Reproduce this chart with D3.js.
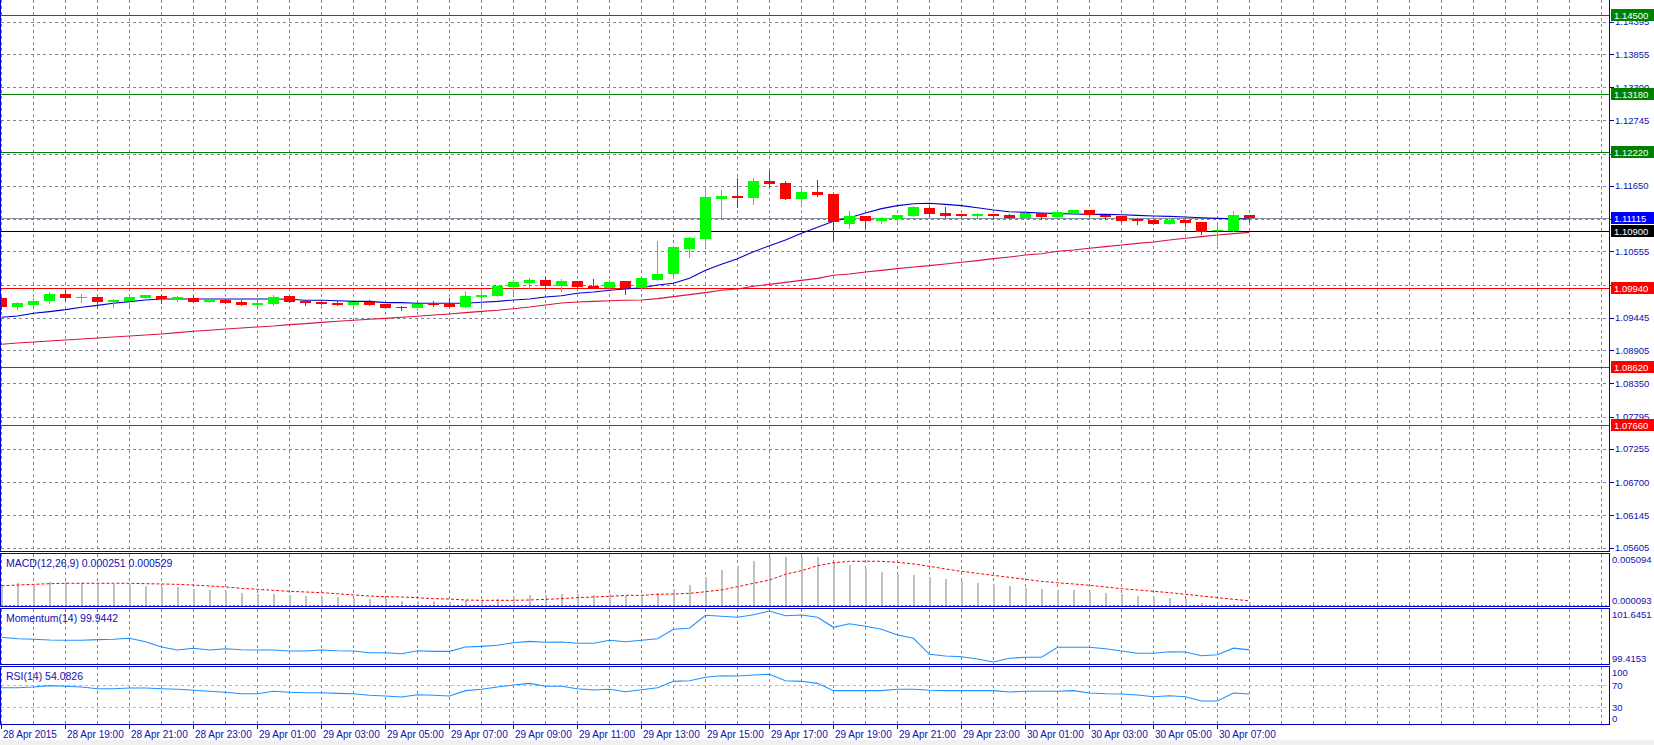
<!DOCTYPE html>
<html>
<head>
<meta charset="utf-8">
<script src="https://cdn.jsdelivr.net/npm/d3@7"></script>
<style>
body { margin:0; background:#fff; }
svg text { font-family: "Liberation Sans", Arial, sans-serif; }
</style>
</head>
<body>
<svg id="chart" width="1654" height="745"></svg>
<script>
// data (EURUSD M30, 28 Apr 17:00 -> 30 Apr 08:00)
var open  = [1.09784,1.09633,1.09667,1.09728,1.09845,1.09784,1.09795,1.09717,1.09728,1.09784,
             1.09811,1.09761,1.09778,1.09717,1.09750,1.09711,1.09667,1.09683,1.09811,1.09733,
             1.09711,1.09694,1.09667,1.09717,1.09678,1.09625,1.09616,1.09683,1.09694,1.09633,
             1.09800,1.09817,1.09967,1.10034,1.10079,1.09984,1.10062,1.09978,1.09950,1.10062,
             1.09950,1.10079,1.10185,1.10596,1.10764,1.11432,1.11482,1.11454,1.11733,1.11699,
             1.11432,1.11549,1.11510,1.11020,1.11148,1.11070,1.11103,1.11153,1.11282,1.11198,
             1.11181,1.11153,1.11181,1.11165,1.11120,1.11198,1.11137,1.11198,1.11248,1.11165,
             1.11148,1.11103,1.11087,1.11020,1.11087,1.11053,1.10892,1.10892,1.11165];
var high  = [1.09800,1.09711,1.09784,1.09878,1.09912,1.09845,1.09795,1.09761,1.09828,1.09828,
             1.09828,1.09811,1.09811,1.09778,1.09767,1.09745,1.09694,1.09828,1.09811,1.09750,
             1.09733,1.09728,1.09717,1.09745,1.09678,1.09650,1.09683,1.09722,1.09784,1.09895,
             1.09912,1.09995,1.10079,1.10118,1.10129,1.10095,1.10062,1.10095,1.10079,1.10062,
             1.10112,1.10730,1.10630,1.10797,1.11633,1.11577,1.11788,1.11783,1.11900,1.11727,
             1.11616,1.11749,1.11510,1.11231,1.11148,1.11137,1.11165,1.11310,1.11298,1.11298,
             1.11181,1.11198,1.11181,1.11181,1.11248,1.11198,1.11215,1.11248,1.11248,1.11165,
             1.11148,1.11120,1.11087,1.11120,1.11087,1.11053,1.10992,1.11231,1.11165];
var low   = [1.09600,1.09600,1.09667,1.09700,1.09750,1.09717,1.09633,1.09633,1.09667,1.09745,
             1.09700,1.09733,1.09717,1.09717,1.09700,1.09667,1.09650,1.09667,1.09717,1.09667,
             1.09683,1.09667,1.09667,1.09667,1.09616,1.09583,1.09583,1.09650,1.09633,1.09633,
             1.09655,1.09817,1.09828,1.09950,1.09950,1.09900,1.09950,1.09939,1.09950,1.09844,
             1.09950,1.10079,1.10129,1.10468,1.10652,1.11131,1.11298,1.11354,1.11638,1.11438,
             1.11337,1.11488,1.10753,1.10953,1.10953,1.11036,1.11053,1.11153,1.11153,1.11137,
             1.11137,1.11126,1.11120,1.11120,1.11120,1.11103,1.11120,1.11198,1.11148,1.11103,
             1.11053,1.11020,1.11020,1.11020,1.10986,1.10841,1.10680,1.10892,1.11053];
var close = [1.09628,1.09694,1.09728,1.09845,1.09784,1.09789,1.09717,1.09745,1.09795,1.09828,
             1.09761,1.09795,1.09717,1.09750,1.09700,1.09667,1.09694,1.09795,1.09717,1.09700,
             1.09683,1.09667,1.09717,1.09667,1.09616,1.09620,1.09683,1.09667,1.09633,1.09811,
             1.09828,1.09979,1.10045,1.10079,1.09984,1.10062,1.09967,1.09939,1.10045,1.09950,
             1.10112,1.10179,1.10630,1.10781,1.11465,1.11482,1.11449,1.11733,1.11688,1.11438,
             1.11549,1.11504,1.11036,1.11148,1.11070,1.11114,1.11165,1.11298,1.11187,1.11153,
             1.11153,1.11181,1.11153,1.11120,1.11198,1.11137,1.11215,1.11248,1.11165,1.11137,
             1.11070,1.11070,1.11020,1.11087,1.11036,1.10892,1.10908,1.11165,1.11115];

var maFast = [1.09455,1.09477,1.09522,1.09550,1.09583,1.09622,1.09655,1.09689,1.09717,1.09745,
              1.09761,1.09761,1.09761,1.09761,1.09761,1.09761,1.09761,1.09761,1.09756,1.09739,
              1.09739,1.09733,1.09722,1.09722,1.09700,1.09700,1.09689,1.09689,1.09689,1.09689,
              1.09706,1.09722,1.09744,1.09761,1.09794,1.09816,1.09856,1.09878,1.09906,1.09928,
              1.09950,1.09995,1.10023,1.10106,1.10240,1.10340,1.10435,1.10552,1.10652,1.10747,
              1.10858,1.10959,1.11059,1.11120,1.11198,1.11271,1.11321,1.11354,1.11360,1.11343,
              1.11321,1.11287,1.11248,1.11220,1.11209,1.11198,1.11187,1.11181,1.11176,1.11176,
              1.11170,1.11159,1.11148,1.11142,1.11131,1.11120,1.11109,1.11103,1.11098];
var maSlow = [1.09004,1.09026,1.09043,1.09060,1.09077,1.09093,1.09110,1.09127,1.09143,1.09160,
              1.09177,1.09199,1.09221,1.09238,1.09260,1.09277,1.09294,1.09310,1.09333,1.09349,
              1.09371,1.09388,1.09405,1.09422,1.09438,1.09455,1.09472,1.09494,1.09511,1.09533,
              1.09555,1.09572,1.09599,1.09627,1.09661,1.09694,1.09711,1.09722,1.09733,1.09739,
              1.09744,1.09767,1.09800,1.09834,1.09867,1.09906,1.09928,1.09973,1.10006,1.10039,
              1.10073,1.10106,1.10157,1.10179,1.10212,1.10240,1.10268,1.10296,1.10318,1.10346,
              1.10374,1.10402,1.10435,1.10463,1.10496,1.10518,1.10558,1.10580,1.10608,1.10636,
              1.10663,1.10691,1.10713,1.10747,1.10775,1.10803,1.10831,1.10853,1.10875];

var macdHist = [0.00209,0.00240,0.00223,0.00251,0.00244,0.00234,0.00234,0.00223,0.00220,0.00206,
                0.00199,0.00196,0.00175,0.00165,0.00157,0.00137,0.00126,0.00120,0.00113,0.00106,
                0.00092,0.00095,0.00085,0.00071,0.00071,0.00054,0.00054,0.00054,0.00040,0.00058,
                0.00061,0.00071,0.00092,0.00113,0.00113,0.00126,0.00126,0.00113,0.00120,0.00106,
                0.00113,0.00130,0.00175,0.00216,0.00299,0.00372,0.00413,0.00465,0.00509,0.00506,
                0.005094,0.00503,0.00454,0.00423,0.00382,0.00351,0.00333,0.00320,0.00299,0.00278,
                0.00258,0.00237,0.00216,0.00206,0.00189,0.00175,0.00165,0.00165,0.00147,0.00134,
                0.00123,0.00102,0.00092,0.00082,0.00071,0.00035,0.000093,0.00022,0.000251];
var macdSignal = [0.00209,0.00216,0.00223,0.00230,0.00234,0.00234,0.00234,0.00234,0.00234,0.00230,
                  0.00227,0.00223,0.00216,0.00206,0.00196,0.00182,0.00172,0.00161,0.00151,0.00144,
                  0.00137,0.00126,0.00113,0.00102,0.00095,0.00092,0.00085,0.00075,0.00071,0.00061,
                  0.00058,0.00058,0.00058,0.00061,0.00068,0.00075,0.00085,0.00092,0.00099,0.00109,
                  0.00109,0.00120,0.00123,0.00130,0.00147,0.00165,0.00199,0.00234,0.00268,0.00327,
                  0.00365,0.00416,0.00447,0.00462,0.00462,0.00462,0.00451,0.00434,0.00410,0.00382,
                  0.00358,0.00337,0.00316,0.00296,0.00275,0.00254,0.00240,0.00227,0.00213,0.00196,
                  0.00178,0.00165,0.00151,0.00137,0.00120,0.00102,0.00085,0.00068,0.000529];

var momentum = [100.495,100.434,100.408,100.377,100.364,100.364,100.393,100.408,100.452,100.303,
                100.071,99.940,100.014,99.940,99.997,99.953,99.940,99.940,99.896,99.896,
                99.940,99.910,99.896,99.822,99.822,99.778,99.910,99.881,99.881,100.071,
                100.100,100.145,100.259,100.319,100.277,100.290,100.233,100.233,100.364,100.303,
                100.364,100.434,100.845,100.889,101.457,101.413,101.370,101.483,101.6451,101.440,
                101.470,101.370,100.932,101.090,100.976,100.845,100.596,100.452,99.752,99.678,
                99.647,99.546,99.4153,99.577,99.621,99.621,100.058,100.058,100.058,99.997,
                99.896,99.796,99.796,99.866,99.853,99.691,99.735,100.020,99.9442];

var rsi = [65.6,65.6,66.9,69.3,68.1,66.9,63.7,63.7,65.0,65.0,
           63.7,62.6,60.8,58.9,57.1,54.5,54.5,58.9,57.1,56.4,
           56.4,55.2,54.5,51.6,50.3,48.4,52.7,51.6,50.3,60.1,
           62.6,66.9,70.5,73.6,68.1,68.1,63.7,61.3,62.6,58.2,
           61.9,65.6,77.3,78.5,84.7,87.7,87.1,89.0,90.2,78.5,
           77.3,73.6,60.1,60.1,60.1,60.1,62.6,62.6,60.8,60.1,
           60.1,60.1,60.1,57.6,58.9,58.9,58.9,60.1,55.8,54.5,
           54.0,52.1,49.0,50.8,49.0,41.1,41.1,55.8,54.0826];

var priceTicks = [1.14395,1.13855,1.13300,1.12745,1.12190,1.11650,1.11100,1.10555,1.10000,
                  1.09445,1.08905,1.08350,1.07795,1.07255,1.06700,1.06145,1.05605];
var levelsGreen = [1.14500, 1.13180, 1.12220];
var levelsBlack = [1.10900];
var levelsRed = [1.09940, 1.08620, 1.07660];
var bidPrice = 1.11115;

var timeLabels = ['28 Apr 2015','28 Apr 19:00','28 Apr 21:00','28 Apr 23:00','29 Apr 01:00',
                  '29 Apr 03:00','29 Apr 05:00','29 Apr 07:00','29 Apr 09:00','29 Apr 11:00',
                  '29 Apr 13:00','29 Apr 15:00','29 Apr 17:00','29 Apr 19:00','29 Apr 21:00',
                  '29 Apr 23:00','30 Apr 01:00','30 Apr 03:00','30 Apr 05:00','30 Apr 07:00'];
var macdScale = [0.000093, 0.005094];
var momScale = [99.4153, 101.6451];
var rsiLevels = [100, 70, 30, 0];
// END data

var svg = d3.select('#chart');
var W = 1654, H = 745;
var right = 1609.5;
var axisBlue = '#0000c8';
var textBlue = '#1010b0';
var gridCol = '#7b8799';

var panels = {
    main: {top: -2, bottom: 551.5},
    macd: {top: 553.5, bottom: 606.5},
    mom:  {top: 608.5, bottom: 664.5},
    rsi:  {top: 666.5, bottom: 724.5}
};

// one candle every 16px, grid every 2 candles
var x = d3.scaleLinear().domain([0, 100]).range([1.5, 1601.5]);

var y = d3.scaleLinear().domain([1.05605, 1.14395]).range([547.7, 21.7]);
var yMacd = d3.scaleLinear().domain(macdScale).range([605, 556.7]);
var yMom = d3.scaleLinear().domain(momScale).range([662, 611]);
var yRsi = d3.scaleLinear().domain([0, 100]).range([723.3, 669]);

function px(v){ return Math.round(v) + 0.5; }

svg.append('rect').attr('width', W).attr('height', H).attr('fill', '#fff');
svg.append('rect').attr('x', 0).attr('y', 740).attr('width', W).attr('height', 5).attr('fill', '#f0f0f0');

// vertical grid through every panel
var gridK = d3.range(0, 101, 2);
Object.keys(panels).forEach(function(name){
    var p = panels[name];
    svg.append('g').selectAll('line').data(gridK).join('line')
        .attr('x1', function(k){ return x(k); }).attr('x2', function(k){ return x(k); })
        .attr('y1', Math.max(0, p.top)).attr('y2', p.bottom)
        .attr('stroke', gridCol).attr('stroke-dasharray', '3,3')
        .attr('shape-rendering', 'crispEdges');
});

// horizontal grid main
svg.append('g').selectAll('line').data(priceTicks).join('line')
    .attr('x1', 1).attr('x2', right)
    .attr('y1', function(d){ return px(y(d)); }).attr('y2', function(d){ return px(y(d)); })
    .attr('stroke', gridCol).attr('stroke-dasharray', '3,3')
    .attr('shape-rendering', 'crispEdges');

// bid line
svg.append('line').attr('x1', 1).attr('x2', right)
    .attr('y1', px(y(bidPrice))).attr('y2', px(y(bidPrice)))
    .attr('stroke', '#8090a0').attr('shape-rendering', 'crispEdges');

// level lines
function drawLevels(levels, color){
    svg.append('g').selectAll('line').data(levels).join('line')
        .attr('x1', 1).attr('x2', right)
        .attr('y1', function(d){ return px(y(d)); }).attr('y2', function(d){ return px(y(d)); })
        .attr('stroke', color).attr('shape-rendering', 'crispEdges');
}
drawLevels(levelsGreen, '#008000');
drawLevels(levelsBlack, '#000000');
drawLevels(levelsRed, '#ff0000');

// moving averages
function maLine(vals, color){
    var line = d3.line().x(function(d, i){ return x(i); }).y(function(d){ return y(d); });
    svg.append('path').datum(vals).attr('d', line)
        .attr('fill', 'none').attr('stroke', color).attr('stroke-width', 1.1);
}
maLine(maSlow, '#dc143c');
maLine(maFast, '#0000cd');

// candles
var idx = d3.range(open.length);
var cg = svg.append('g').attr('shape-rendering', 'crispEdges');
cg.selectAll('line').data(idx).join('line')
    .attr('x1', function(i){ return x(i); }).attr('x2', function(i){ return x(i); })
    .attr('y1', function(i){ return Math.round(y(high[i])); })
    .attr('y2', function(i){ return Math.round(y(low[i])) + 1; })
    .attr('stroke', function(i){ return close[i] >= open[i] ? '#00ff00' : '#ff0000'; });
cg.selectAll('rect').data(idx).join('rect')
    .attr('x', function(i){ return x(i) - 5.5; })
    .attr('width', 11)
    .attr('y', function(i){ return Math.round(y(Math.max(open[i], close[i]))); })
    .attr('height', function(i){
        return Math.max(1, Math.round(Math.abs(y(open[i]) - y(close[i]))));
    })
    .attr('fill', function(i){ return close[i] >= open[i] ? '#00ff00' : '#ff0000'; });

// MACD
var mg = svg.append('g').attr('shape-rendering', 'crispEdges');
mg.append('line').attr('x1', 1).attr('x2', right).attr('y1', 605.5).attr('y2', 605.5)
    .attr('stroke', gridCol).attr('stroke-dasharray', '2,2');
mg.selectAll('rect').data(macdHist).join('rect')
    .attr('x', function(d, i){ return x(i) - 1; })
    .attr('width', 2)
    .attr('y', function(d){ return Math.round(yMacd(d)); })
    .attr('height', function(d){ return Math.max(1, 605 - Math.round(yMacd(d))); })
    .attr('fill', '#c0c0c0');
svg.append('path').datum(macdSignal)
    .attr('d', d3.line().x(function(d, i){ return x(i); }).y(function(d){ return yMacd(d); }))
    .attr('fill', 'none').attr('stroke', '#ff0000').attr('stroke-dasharray', '3,2');

// Momentum
svg.append('path').datum(momentum)
    .attr('d', d3.line().x(function(d, i){ return x(i); }).y(function(d){ return yMom(d); }))
    .attr('fill', 'none').attr('stroke', '#1e90ff').attr('stroke-width', 1.1);

// RSI
svg.append('g').selectAll('line').data([70, 30]).join('line')
    .attr('x1', 1).attr('x2', right)
    .attr('y1', function(d){ return px(yRsi(d)); }).attr('y2', function(d){ return px(yRsi(d)); })
    .attr('stroke', '#b8b8b8').attr('stroke-dasharray', '3,3')
    .attr('shape-rendering', 'crispEdges');
svg.append('path').datum(rsi)
    .attr('d', d3.line().x(function(d, i){ return x(i); }).y(function(d){ return yRsi(d); }))
    .attr('fill', 'none').attr('stroke', '#1e90ff').attr('stroke-width', 1.1);

// panel borders
Object.keys(panels).forEach(function(name){
    var p = panels[name];
    svg.append('rect').attr('x', 0.5).attr('y', p.top)
        .attr('width', right - 0.5).attr('height', p.bottom - p.top)
        .attr('fill', 'none').attr('stroke', axisBlue).attr('shape-rendering', 'crispEdges');
});

// panel titles
var titles = [
    {t: 'MACD(12,26,9) 0.000251 0.000529', y: 567},
    {t: 'Momentum(14) 99.9442', y: 622},
    {t: 'RSI(14) 54.0826', y: 680}
];
svg.append('g').selectAll('text').data(titles).join('text')
    .attr('x', 6).attr('y', function(d){ return d.y; })
    .attr('font-size', '10.5px').attr('fill', textBlue)
    .text(function(d){ return d.t; });

// price axis
var ag = svg.append('g');
ag.selectAll('line').data(priceTicks).join('line')
    .attr('x1', right).attr('x2', right + 4)
    .attr('y1', function(d){ return px(y(d)); }).attr('y2', function(d){ return px(y(d)); })
    .attr('stroke', axisBlue).attr('shape-rendering', 'crispEdges');
ag.selectAll('text').data(priceTicks).join('text')
    .attr('x', 1615).attr('y', function(d){ return y(d) + 3.5; })
    .attr('font-size', '9.5px').attr('fill', textBlue)
    .text(function(d){ return d.toFixed(5); });

// indicator scale labels
function sideLabel(vals, sc, p, fmt){
    svg.append('g').selectAll('text').data(vals).join('text')
        .attr('x', 1612)
        .attr('y', function(d){
            var yy = Math.max(p.top + 6, Math.min(p.bottom - 6, sc(d)));
            return yy + 3.5;
        })
        .attr('font-size', '9.5px').attr('fill', textBlue)
        .text(fmt);
}
sideLabel(macdScale, yMacd, panels.macd, function(d){ return d.toFixed(6); });
sideLabel(momScale, yMom, panels.mom, function(d){ return d.toFixed(4); });
sideLabel(rsiLevels, yRsi, panels.rsi, function(d){ return d; });

// coloured price tags
var tags = [];
levelsGreen.forEach(function(v){ tags.push({v: v, bg: '#008000'}); });
tags.push({v: bidPrice, bg: '#0000ff'});
levelsBlack.forEach(function(v){ tags.push({v: v, bg: '#000000'}); });
levelsRed.forEach(function(v){ tags.push({v: v, bg: '#ff0000'}); });
var tg = svg.append('g').selectAll('g').data(tags).join('g');
tg.append('rect')
    .attr('x', 1611).attr('width', 43)
    .attr('y', function(d){ return Math.round(y(d.v)) - 6; }).attr('height', 12)
    .attr('fill', function(d){ return d.bg; });
tg.append('text')
    .attr('x', 1614).attr('y', function(d){ return Math.round(y(d.v)) + 4; })
    .attr('font-size', '9.5px').attr('fill', '#fff')
    .text(function(d){ return d.v.toFixed(5); });

// time axis
var tk = timeLabels.map(function(t, i){ return {t: t, k: i * 4}; });
var xg = svg.append('g');
xg.selectAll('line').data(tk).join('line')
    .attr('x1', function(d){ return x(d.k); }).attr('x2', function(d){ return x(d.k); })
    .attr('y1', 724.5).attr('y2', 729)
    .attr('stroke', axisBlue).attr('shape-rendering', 'crispEdges');
xg.selectAll('text').data(tk).join('text')
    .attr('x', function(d){ return x(d.k) + 1.5; }).attr('y', 738)
    .attr('font-size', '10px').attr('fill', textBlue)
    .text(function(d){ return d.t; });
</script>
</body>
</html>
